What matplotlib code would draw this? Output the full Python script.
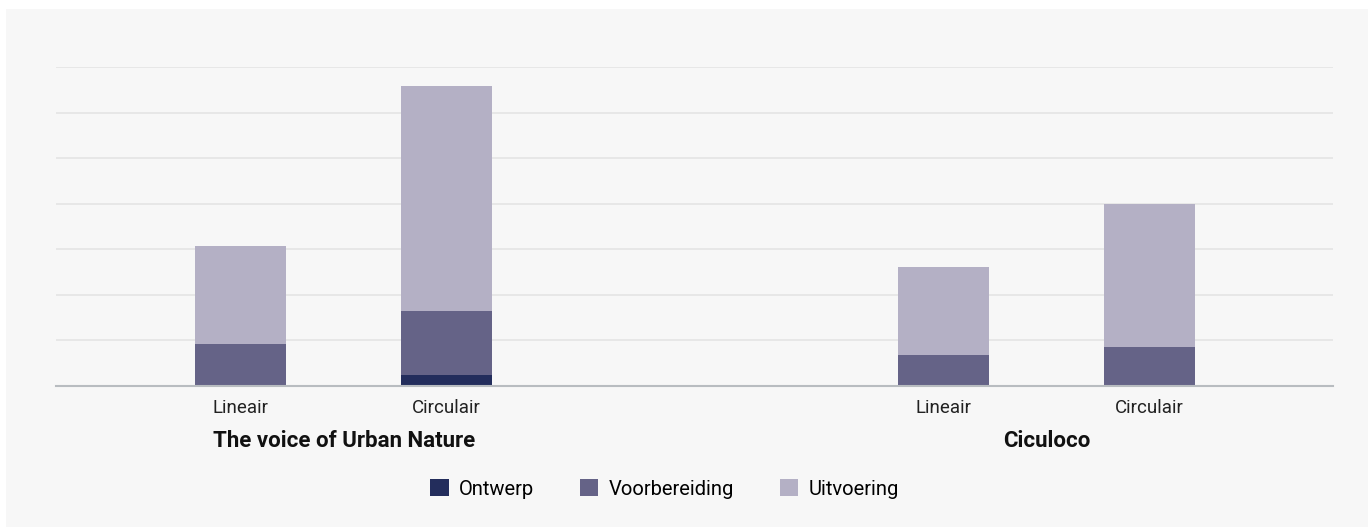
import matplotlib
matplotlib.use('Agg')
from matplotlib import pyplot as plt
from matplotlib import transforms
from matplotlib.patches import Rectangle

plt.rcParams['font.family'] = ['Roboto', 'DejaVu Sans']

groups = ['The voice of Urban Nature', 'Ciculoco']
bar_labels = ['Lineair', 'Circulair', 'Lineair', 'Circulair']
ontwerp = [0.0, 0.23, 0.0, 0.0]
voorbereiding = [0.91, 1.41, 0.67, 0.85]
uitvoering = [2.16, 4.94, 1.93, 3.14]

colors = ['#232d5c', '#656387', '#b4b0c5']
series_names = ['Ontwerp', 'Voorbereiding', 'Uitvoering']

W, H = 1368, 527
fig = plt.figure(figsize=(W / 100, H / 100), dpi=100, facecolor='white')
fig.patches.append(Rectangle((6 / W, 0), 1, (H - 9) / H, transform=fig.transFigure,
                             facecolor='#f7f7f7', edgecolor='none', zorder=-10))

ax = fig.add_axes([56 / W, (H - 385.5) / H, (1333 - 56) / W, (385.5 - 67) / H])
ax.set_facecolor('none')

# positions of bars (two groups, two bars each)
pos = [0, 1, 3.41, 4.41]
width = 0.44

bottom2 = [a + b for a, b in zip(ontwerp, voorbereiding)]
ax.bar(pos, ontwerp, width, color=colors[0], label=series_names[0], zorder=3)
ax.bar(pos, voorbereiding, width, bottom=ontwerp, color=colors[1], label=series_names[1], zorder=3)
ax.bar(pos, uitvoering, width, bottom=bottom2, color=colors[2], label=series_names[2], zorder=3)

ax.set_xlim(-0.896, 5.30)
ax.set_ylim(0, 7)
ax.set_yticks(range(0, 8))
ax.yaxis.grid(True, color='#e6e6e6', linewidth=1.3)
ax.tick_params(axis='y', length=0, labelleft=False)
for s in ['top', 'right', 'left']:
    ax.spines[s].set_visible(False)
ax.spines['bottom'].set_color('#b8bcc0')
ax.spines['bottom'].set_linewidth(1.5)
ax.spines['bottom'].set_zorder(4)

ax.set_xticks(pos)
ax.set_xticklabels(bar_labels, fontsize=13.5, color='#222222')
ax.tick_params(axis='x', length=0, pad=10)

trans = transforms.blended_transform_factory(ax.transData, fig.transFigure)
ax.text((pos[0] + pos[1]) / 2, 1 - 441 / H, groups[0], transform=trans, ha='center',
        va='center', fontsize=16, fontweight='bold', color='#111111')
ax.text((pos[2] + pos[3]) / 2, 1 - 441 / H, groups[1], transform=trans, ha='center',
        va='center', fontsize=16, fontweight='bold', color='#111111')

fig.legend(loc='center', bbox_to_anchor=(664.5 / W, 1 - 489 / H), ncol=3, frameon=False,
           fontsize=14.5, handlelength=0.9, handleheight=0.9, handletextpad=0.5,
           columnspacing=2.3)

fig.savefig('out.png', dpi=100, facecolor=fig.get_facecolor())
